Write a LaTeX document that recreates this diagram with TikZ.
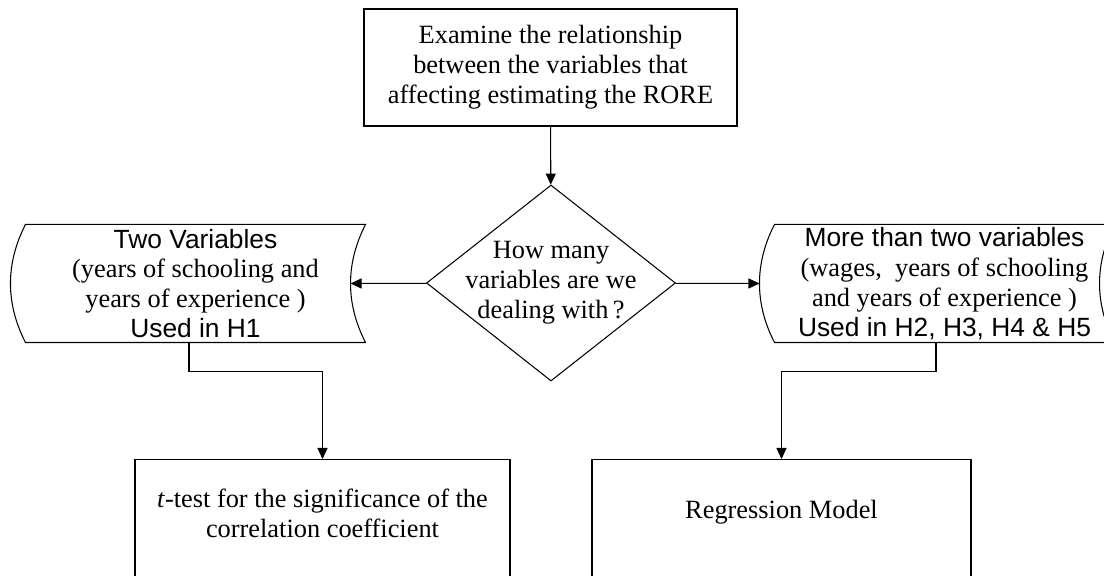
\documentclass[tikz,border=0pt]{standalone}
\usepackage{fontspec}
\setmainfont{Liberation Serif}
\setsansfont{Liberation Sans}
\usepackage{tikz}
\usetikzlibrary{shapes.geometric,arrows.meta,positioning,calc}

% stored-data outline (bulged left side, hollow right side) round a bare node
\newcommand{\storedoutline}[1]{%
  \draw (#1.north west) -- (#1.north east)
    .. controls +(-0.4,-0.78) and +(-0.4,0.78) .. (#1.south east)
    -- (#1.south west)
    .. controls +(-0.4,0.78) and +(-0.4,-0.78) .. (#1.north west) -- cycle;}

\begin{document}
\begin{tikzpicture}[
    line width=0.6pt,
    every node/.style={font=\fontsize{15}{17}\selectfont, align=center},
    procbox/.style={draw, minimum width=7.46cm, minimum height=2.34cm},
    decision/.style={draw, diamond, minimum width=4.98cm, minimum height=3.92cm, inner sep=0pt},
    storedata/.style={minimum width=6.78cm, minimum height=2.34cm, inner sep=0pt},
    flowline/.style={-{Triangle[length=0.22cm,width=0.2cm]}},
]
    \useasboundingbox (0,0) rectangle (22.08,11.52);

    % start
    \node[procbox] (examine) at (11.01,10.17)
        {Examine the relationship\\between the variables that\\affecting estimating the RORE};

    % decision
    \node[decision] (howmany) at (11.02,5.86) {};
    \node (question) at (howmany) {How many\\variables are we\\dealing with\,?};

    % data inputs
    \node[storedata] (twovar) at (3.91,5.85)
        {{\sffamily Two Variables}\\(years of schooling and\\years of experience )\\{\sffamily Used in H1}};
    \storedoutline{twovar}
    \node[storedata] (morevar) at (18.89,5.85)
        {{\sffamily More than two variables}\\(wages,\ \ years of schooling\\and years of experience )\\{\sffamily Used in H2, H3, H4 \& H5}};
    \storedoutline{morevar}

    % tests
    \node[procbox, minimum width=7.5cm, minimum height=3cm, anchor=north] (ttest) at (6.45,2.34) {};
    \node (ttesttext) at (6.45,1.26) {\textit{t}-test for the significance of the\\correlation coefficient};
    \node[procbox, minimum width=7.58cm, minimum height=3cm, anchor=north] (regress) at (15.63,2.34) {};
    \node (regresstext) at (15.63,1.28) {Regression Model};

    % connectors
    \draw[flowline] (examine) -- (howmany);
    \draw[flowline] (howmany) -- ([xshift=-0.3cm]twovar.east);
    \draw[flowline] (howmany) -- ([xshift=-0.3cm]morevar.west);
    \draw[flowline] ([xshift=-0.13cm]twovar.south) -- ++(0,-0.58) -| (ttest.north);
    \draw[flowline] ([xshift=-0.17cm]morevar.south) -- ++(0,-0.58) -| (regress.north);
\end{tikzpicture}
\end{document}
